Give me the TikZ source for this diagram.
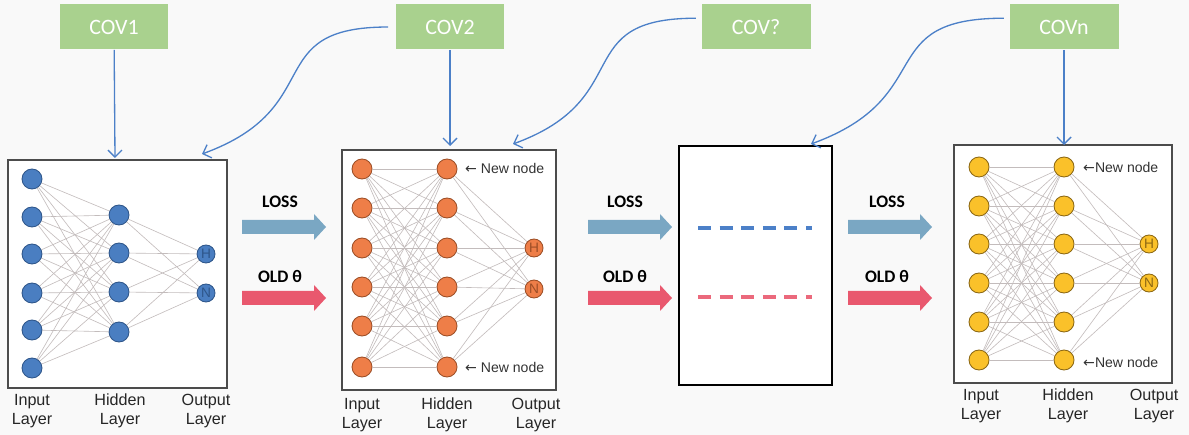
\documentclass[tikz,border=0pt]{standalone}
\usepackage{fontspec}
\setmainfont{Liberation Sans}
\newfontfamily\calib{Carlito}
\newfontfamily\arrowfont{DejaVu Sans}
\usetikzlibrary{arrows.meta}
\definecolor{bggray}{RGB}{249,249,249}
\definecolor{covgreen}{RGB}{169,209,142}
\definecolor{linkblue}{RGB}{76,128,200}
\definecolor{lossblue}{RGB}{122,167,195}
\definecolor{oldred}{RGB}{233,88,110}
\definecolor{nblue}{RGB}{74,126,193}
\definecolor{nblued}{RGB}{46,86,138}
\definecolor{norange}{RGB}{238,126,72}
\definecolor{norangd}{RGB}{156,78,38}
\definecolor{nyellow}{RGB}{250,193,42}
\definecolor{nyellowd}{RGB}{140,104,20}
\definecolor{wire}{RGB}{195,188,188}
\tikzset{neuron/.style = {shape=circle,draw,line width=0.5pt,minimum size=0.4cm,inner sep=0pt}}
\tikzset{outneuron/.style = {minimum size=0.36cm,font=\fontsize{7.8}{8}\selectfont}}
\tikzset{bneuron/.style = {neuron,fill=nblue,draw=nblued,text=nblued}}
\tikzset{oneuron/.style = {neuron,fill=norange,draw=norangd,text=norangd}}
\tikzset{yneuron/.style = {neuron,fill=nyellow,draw=nyellowd,text=nyellowd}}
\tikzset{edge/.style = {-,draw=wire,line width=0.35pt}}
\tikzset{cov/.style = {shape=rectangle,fill=covgreen,text=white,minimum width=2.18cm,minimum height=0.9cm,font=\calib\fontsize{12.5}{14}\selectfont}}
\tikzset{link/.style = {draw=linkblue,line width=0.75pt,-{Straight Barb[length=4pt,width=8pt]}}}
\tikzset{panel/.style = {draw=black!70,fill=white,line width=0.6pt}}
\tikzset{flowlbl/.style = {font=\calib\bfseries\fontsize{10}{12}\selectfont}}
\tikzset{layerlbl/.style = {align=center,font=\fontsize{9.2}{10.8}\selectfont,text=black!85}}
\tikzset{newlbl/.style = {anchor=west,font=\fontsize{8}{9}\selectfont,text=black!80}}

\begin{document}
\begin{tikzpicture}[x=0.02cm,y=-0.02cm]
\path[use as bounding box,fill=bggray] (0,0) rectangle (1189,435);
% covariates
\node[cov] (cov1) at (114,27) {COV1};
\node[cov] (cov2) at (450,27) {COV2};
\node[cov] (covq) at (756,27) {COV?};
\node[cov] (covn) at (1064,27) {COVn};
% panels
\draw[panel] (8,160) rectangle (227,388);
\draw[panel] (342,150) rectangle (556,390);
\draw[panel,draw=black,line width=1pt] (679,146) rectangle (832,385);
\draw[panel] (954,145) rectangle (1172,383);
% vertices, first net
\foreach \y [count=\i] in {179,217,254,293,330,368}
  \node[bneuron] (Ai\i) at (32,\y) {};
\foreach \y [count=\j] in {215,253,292,332}
  \node[bneuron] (Ah\j) at (119,\y) {};
\node[bneuron,outneuron] (AoH) at (206,254) {H};
\node[bneuron,outneuron] (AoN) at (206,293) {N};
% vertices, second net
\foreach \y [count=\i] in {169,208,248,287,326,367} {
  \node[oneuron] (Bi\i) at (362,\y) {};
  \node[oneuron] (Bh\i) at (447,\y) {};
}
\node[oneuron,outneuron] (BoH) at (534,248) {H};
\node[oneuron,outneuron] (BoN) at (534,289) {N};
% vertices, last net
\foreach \y [count=\i] in {167,206,244,283,322,360} {
  \node[yneuron] (Ni\i) at (979,\y) {};
  \node[yneuron] (Nh\i) at (1064,\y) {};
}
\node[yneuron,outneuron] (NoH) at (1149,244) {H};
\node[yneuron,outneuron] (NoN) at (1149,283) {N};
%edges
\foreach \i in {1,...,6} {
  \foreach \j in {1,...,4}
    \draw[edge] (Ai\i) -- (Ah\j);
  \foreach \j in {1,...,6} {
    \draw[edge] (Bi\i) -- (Bh\j);
    \draw[edge] (Ni\i) -- (Nh\j);
  }
}
\foreach \k in {H,N} {
  \foreach \j in {1,...,4}
    \draw[edge] (Ah\j) -- (Ao\k);
  \foreach \j in {1,...,6} {
    \draw[edge] (Bh\j) -- (Bo\k);
    \draw[edge] (Nh\j) -- (No\k);
  }
}
% layer names
\node[layerlbl] (Ali) at (32,411) {Input\\Layer};
\node[layerlbl] (Alh) at (120,411) {Hidden\\Layer};
\node[layerlbl] (Alo) at (206,411) {Output\\Layer};
\node[layerlbl] (Bli) at (362,415) {Input\\Layer};
\node[layerlbl] (Blh) at (447,415) {Hidden\\Layer};
\node[layerlbl] (Blo) at (536,415) {Output\\Layer};
\node[layerlbl] (Nli) at (981,406) {Input\\Layer};
\node[layerlbl] (Nlh) at (1068,406) {Hidden\\Layer};
\node[layerlbl] (Nlo) at (1154,406) {Output\\Layer};
\node[newlbl] (Bnew1) at (459,168) {{\arrowfont ←} New node};
\node[newlbl] (Bnew2) at (459,367) {{\arrowfont ←} New node};
\node[newlbl] (Nnew1) at (1077,167) {{\arrowfont ←}New node};
\node[newlbl] (Nnew2) at (1077,362) {{\arrowfont ←}New node};
% covariate links
\coordinate (t1) at (115,158);
\coordinate (t2) at (450,146);
\coordinate (tn) at (1064,145);
\coordinate (c1) at (202,154);
\coordinate (c2) at (513,144);
\coordinate (c3) at (811,144);
\draw[link] (cov1) -- (t1);
\draw[link] (cov2) -- (t2);
\draw[link] (covn) -- (tn);
\draw[link,shorten <=4pt] (cov2.west) to[out=180,in=20,looseness=1.5] (c1);
\draw[link,shorten <=3pt] ([yshift=5pt]covq.west) to[out=180,in=20,looseness=1.5] (c2);
\draw[link,shorten <=3pt] ([yshift=5pt]covn.west) to[out=180,in=20,looseness=1.5] (c3);
% loss and old theta
\foreach \xa/\xl [count=\k] in {242/280,588/625,848/887} {
  \node[flowlbl] (loss\k) at (\xl,202) {LOSS};
  \node[flowlbl] (old\k) at (\xl,276) {OLD θ};
  \fill[lossblue] (\xa,220) -- (\xa+72,220) -- (\xa+72,214) -- (\xa+84,227)
    -- (\xa+72,240) -- (\xa+72,234) -- (\xa,234) -- cycle;
  \fill[oldred] (\xa,291) -- (\xa+72,291) -- (\xa+72,285) -- (\xa+84,298)
    -- (\xa+72,311) -- (\xa+72,305) -- (\xa,305) -- cycle;
}
% unknown net
\draw[linkblue,line width=2.3pt,dash pattern=on 7.4pt off 4.9pt] (698,228) -- (812,228);
\draw[oldred!90!white,line width=2.3pt,dash pattern=on 7.4pt off 4.9pt] (698,297) -- (812,297);
\end{tikzpicture}
\end{document}
